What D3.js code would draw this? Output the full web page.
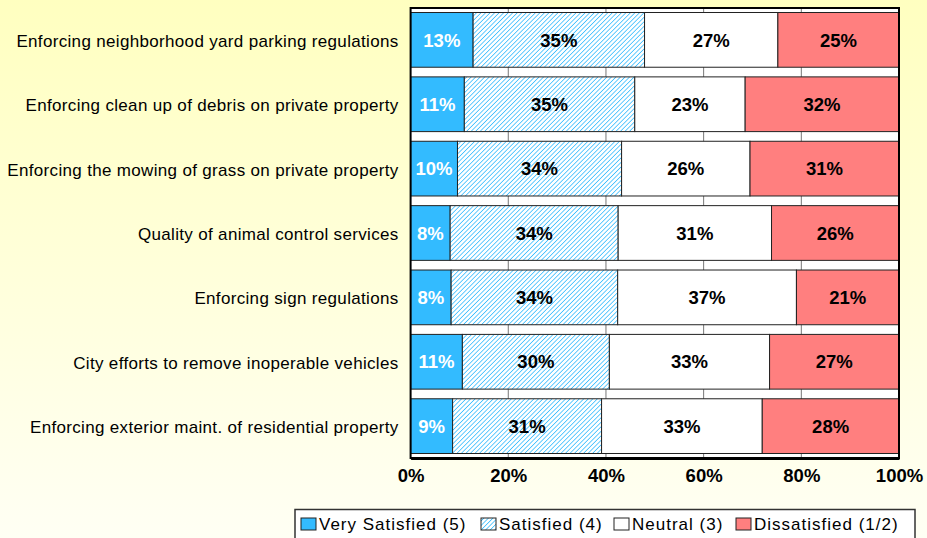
<!DOCTYPE html>
<html>
<head>
<meta charset="utf-8">
<script src="https://cdn.jsdelivr.net/npm/d3@7"></script>
<style>
  html, body { margin: 0; padding: 0; }
  svg { display: block; }
</style>
</head>
<body>
<svg id="chart" width="927" height="538"></svg>
<script>
const categories = [
  "Enforcing neighborhood yard parking regulations",
  "Enforcing clean up of debris on private property",
  "Enforcing the mowing of grass on private property",
  "Quality of animal control services",
  "Enforcing sign regulations",
  "City efforts to remove inoperable vehicles",
  "Enforcing exterior maint. of residential property"
];
const seriesNames = ["Very Satisfied (5)", "Satisfied (4)", "Neutral (3)", "Dissatisfied (1/2)"];
const verySatisfied = [12.8, 11.0, 9.6, 8.1, 8.3, 10.6, 8.6];
const satisfied     = [35.1, 34.9, 33.6, 34.4, 34.1, 30.1, 30.5];
const neutral       = [27.3, 22.6, 26.3, 31.4, 36.6, 32.8, 32.9];
const dissatisfied  = [24.8, 31.5, 30.5, 26.1, 21.0, 26.5, 28.0];
const tickValues = [0, 20, 40, 60, 80, 100];

(function () {
const FONT = "Arial, 'Liberation Sans', sans-serif";
const svg = d3.select("#chart");
const W = 927, H = 538;
const defs = svg.append("defs");
const grad = defs.append("linearGradient").attr("id", "bg").attr("x1", 0).attr("y1", 0).attr("x2", 0).attr("y2", 1);
grad.append("stop").attr("offset", "0%").attr("stop-color", "#FFFFC0");
grad.append("stop").attr("offset", "100%").attr("stop-color", "#FFFFF4");
const pat = defs.append("pattern").attr("id", "hatch").attr("patternUnits", "userSpaceOnUse")
  .attr("width", 3.2).attr("height", 3.2).attr("patternTransform", "rotate(45)");
pat.append("rect").attr("width", 3.2).attr("height", 3.2).attr("fill", "#ffffff");
pat.append("line").attr("x1", 0).attr("y1", 0).attr("x2", 0).attr("y2", 3.2)
  .attr("stroke", "#33BBFF").attr("stroke-width", 1.5);

svg.append("rect").attr("width", W).attr("height", H).attr("fill", "url(#bg)");

const colors = ["#33BBFF", "url(#hatch)", "#FFFFFF", "#FF7F7F"];
const textColors = ["#FFFFFF", "#000000", "#000000", "#000000"];

const pL = 410.6, pR = 899, pT = 8, pB = 458;
const x = d3.scaleLinear().domain([0, 100]).range([pL, pR]);
const y = d3.scaleBand().domain(categories).range([pT, pB]).paddingInner(0.15).paddingOuter(0.07);

svg.append("rect").attr("x", pL).attr("y", pT).attr("width", pR - pL).attr("height", pB - pT)
  .attr("fill", "#ffffff");

svg.append("g").selectAll("line").data(tickValues.slice(1, -1)).join("line")
  .attr("x1", d => x(d)).attr("x2", d => x(d)).attr("y1", pT).attr("y2", pB)
  .attr("stroke", "#777").attr("stroke-width", 1);

const rows = categories.map((c, i) => {
  const vals = [verySatisfied[i], satisfied[i], neutral[i], dissatisfied[i]];
  let acc = 0;
  return vals.map((v, k) => { const s = { cat: c, k, v, x0: acc, x1: acc + v }; acc += v; return s; });
});
const segs = rows.flat();

svg.append("g").selectAll("rect").data(segs).join("rect")
  .attr("x", d => x(d.x0)).attr("y", d => y(d.cat))
  .attr("width", d => x(d.x1) - x(d.x0)).attr("height", y.bandwidth())
  .attr("fill", d => colors[d.k]).attr("stroke", "#222").attr("stroke-width", 1);

svg.append("g").selectAll("text").data(segs).join("text")
  .attr("x", d => (x(d.x0) + x(d.x1)) / 2).attr("y", d => y(d.cat) + y.bandwidth() / 2)
  .attr("dy", "0.36em").attr("text-anchor", "middle")
  .attr("font-family", FONT).attr("font-weight", "bold").attr("font-size", 18.5)
  .attr("fill", d => textColors[d.k])
  .text(d => Math.round(d.v) + "%");

svg.append("rect").attr("x", pL).attr("y", pT).attr("width", pR - pL).attr("height", pB - pT)
  .attr("fill", "none").attr("stroke", "#000").attr("stroke-width", 2);

const yAxis = d3.axisLeft(y).tickSize(0).tickPadding(12);
const gy = svg.append("g").attr("transform", `translate(${pL},1.5)`).call(yAxis);
gy.select(".domain").remove();
gy.selectAll("text").attr("font-family", FONT).attr("font-size", 17)
  .attr("letter-spacing", "0.33px").attr("fill", "#000");

const xAxis = d3.axisBottom(x).tickValues(tickValues).tickFormat(d => d + "%").tickSize(0).tickPadding(11);
const gx = svg.append("g").attr("transform", `translate(0,${pB})`).call(xAxis);
gx.select(".domain").attr("stroke", "#000").attr("stroke-width", 3);
gx.selectAll("text").attr("font-family", FONT).attr("font-weight", "bold")
  .attr("font-size", 18.5).attr("fill", "#000");

const lg = svg.append("g");
lg.append("rect").attr("x", 295).attr("y", 509.5).attr("width", 620).attr("height", 30)
  .attr("fill", "#fff").attr("stroke", "#333").attr("stroke-width", 1.5);
const legX = [301, 481, 614, 736];
const li = lg.selectAll("g").data(seriesNames).join("g").attr("transform", (d, i) => `translate(${legX[i]},0)`);
li.append("rect").attr("x", 0).attr("y", 518).attr("width", 15).attr("height", 12)
  .attr("fill", (d, i) => colors[i]).attr("stroke", "#222").attr("stroke-width", 1);
li.append("text").attr("x", 18).attr("y", 530).attr("font-family", FONT)
  .attr("font-size", 17).attr("letter-spacing", "1px").attr("fill", "#000").text(d => d);
})();
</script>
</body>
</html>
